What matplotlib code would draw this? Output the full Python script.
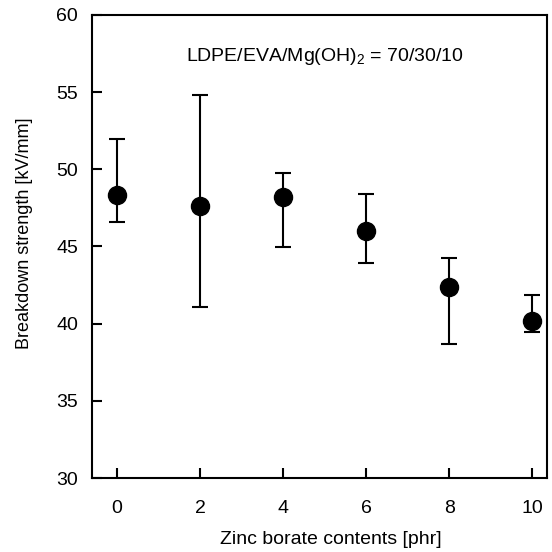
import matplotlib
matplotlib.use("Agg")
import matplotlib.pyplot as plt

plt.rcParams['font.family'] = ['Liberation Sans', 'DejaVu Sans']
plt.rcParams['mathtext.fontset'] = 'custom'
plt.rcParams['mathtext.rm'] = 'Liberation Sans'

zinc_borate = [0, 2, 4, 6, 8, 10]
strength = [48.33, 47.62, 48.18, 46.0, 42.35, 40.19]
upper = [51.96, 54.82, 49.78, 48.42, 44.23, 41.87]
lower = [46.56, 41.05, 44.94, 43.91, 38.68, 39.48]
x_ticks = [0, 2, 4, 6, 8, 10]
y_ticks = [30, 35, 40, 45, 50, 55, 60]

err_low = [s - l for s, l in zip(strength, lower)]
err_up = [u - s for u, s in zip(upper, strength)]

fig = plt.figure(figsize=(5.52, 5.52), dpi=100)
ax = fig.add_axes([0.1667, 0.134, 0.824, 0.839])

ax.errorbar(zinc_borate, strength, yerr=[err_low, err_up], fmt='o', color='black',
            markersize=13, elinewidth=1.5, capsize=6, capthick=1.5, ecolor='black')

ax.set_xlim(-0.6, 10.35)
ax.set_ylim(30, 60)
ax.set_xticks(x_ticks)
ax.set_yticks(y_ticks)
ax.tick_params(direction='in', length=7, width=1.5, labelsize=14,
               top=False, right=False)
ax.tick_params(axis='x', pad=16)
ax.tick_params(axis='y', pad=10)
for s in ax.spines.values():
    s.set_linewidth(1.5)

ax.set_xlabel('Zinc borate contents [phr]', fontsize=14)
ax.set_ylabel('Breakdown strength [kV/mm]', fontsize=13)
ax.xaxis.set_label_coords(0.526, -0.115)
ax.yaxis.set_label_coords(-0.13, 0.529)

ax.text(5.0, 57.3, r'LDPE/EVA/Mg(OH)$_2$ = 70/30/10', ha='center', va='center', fontsize=14)

fig.savefig('out.png', dpi=100)
